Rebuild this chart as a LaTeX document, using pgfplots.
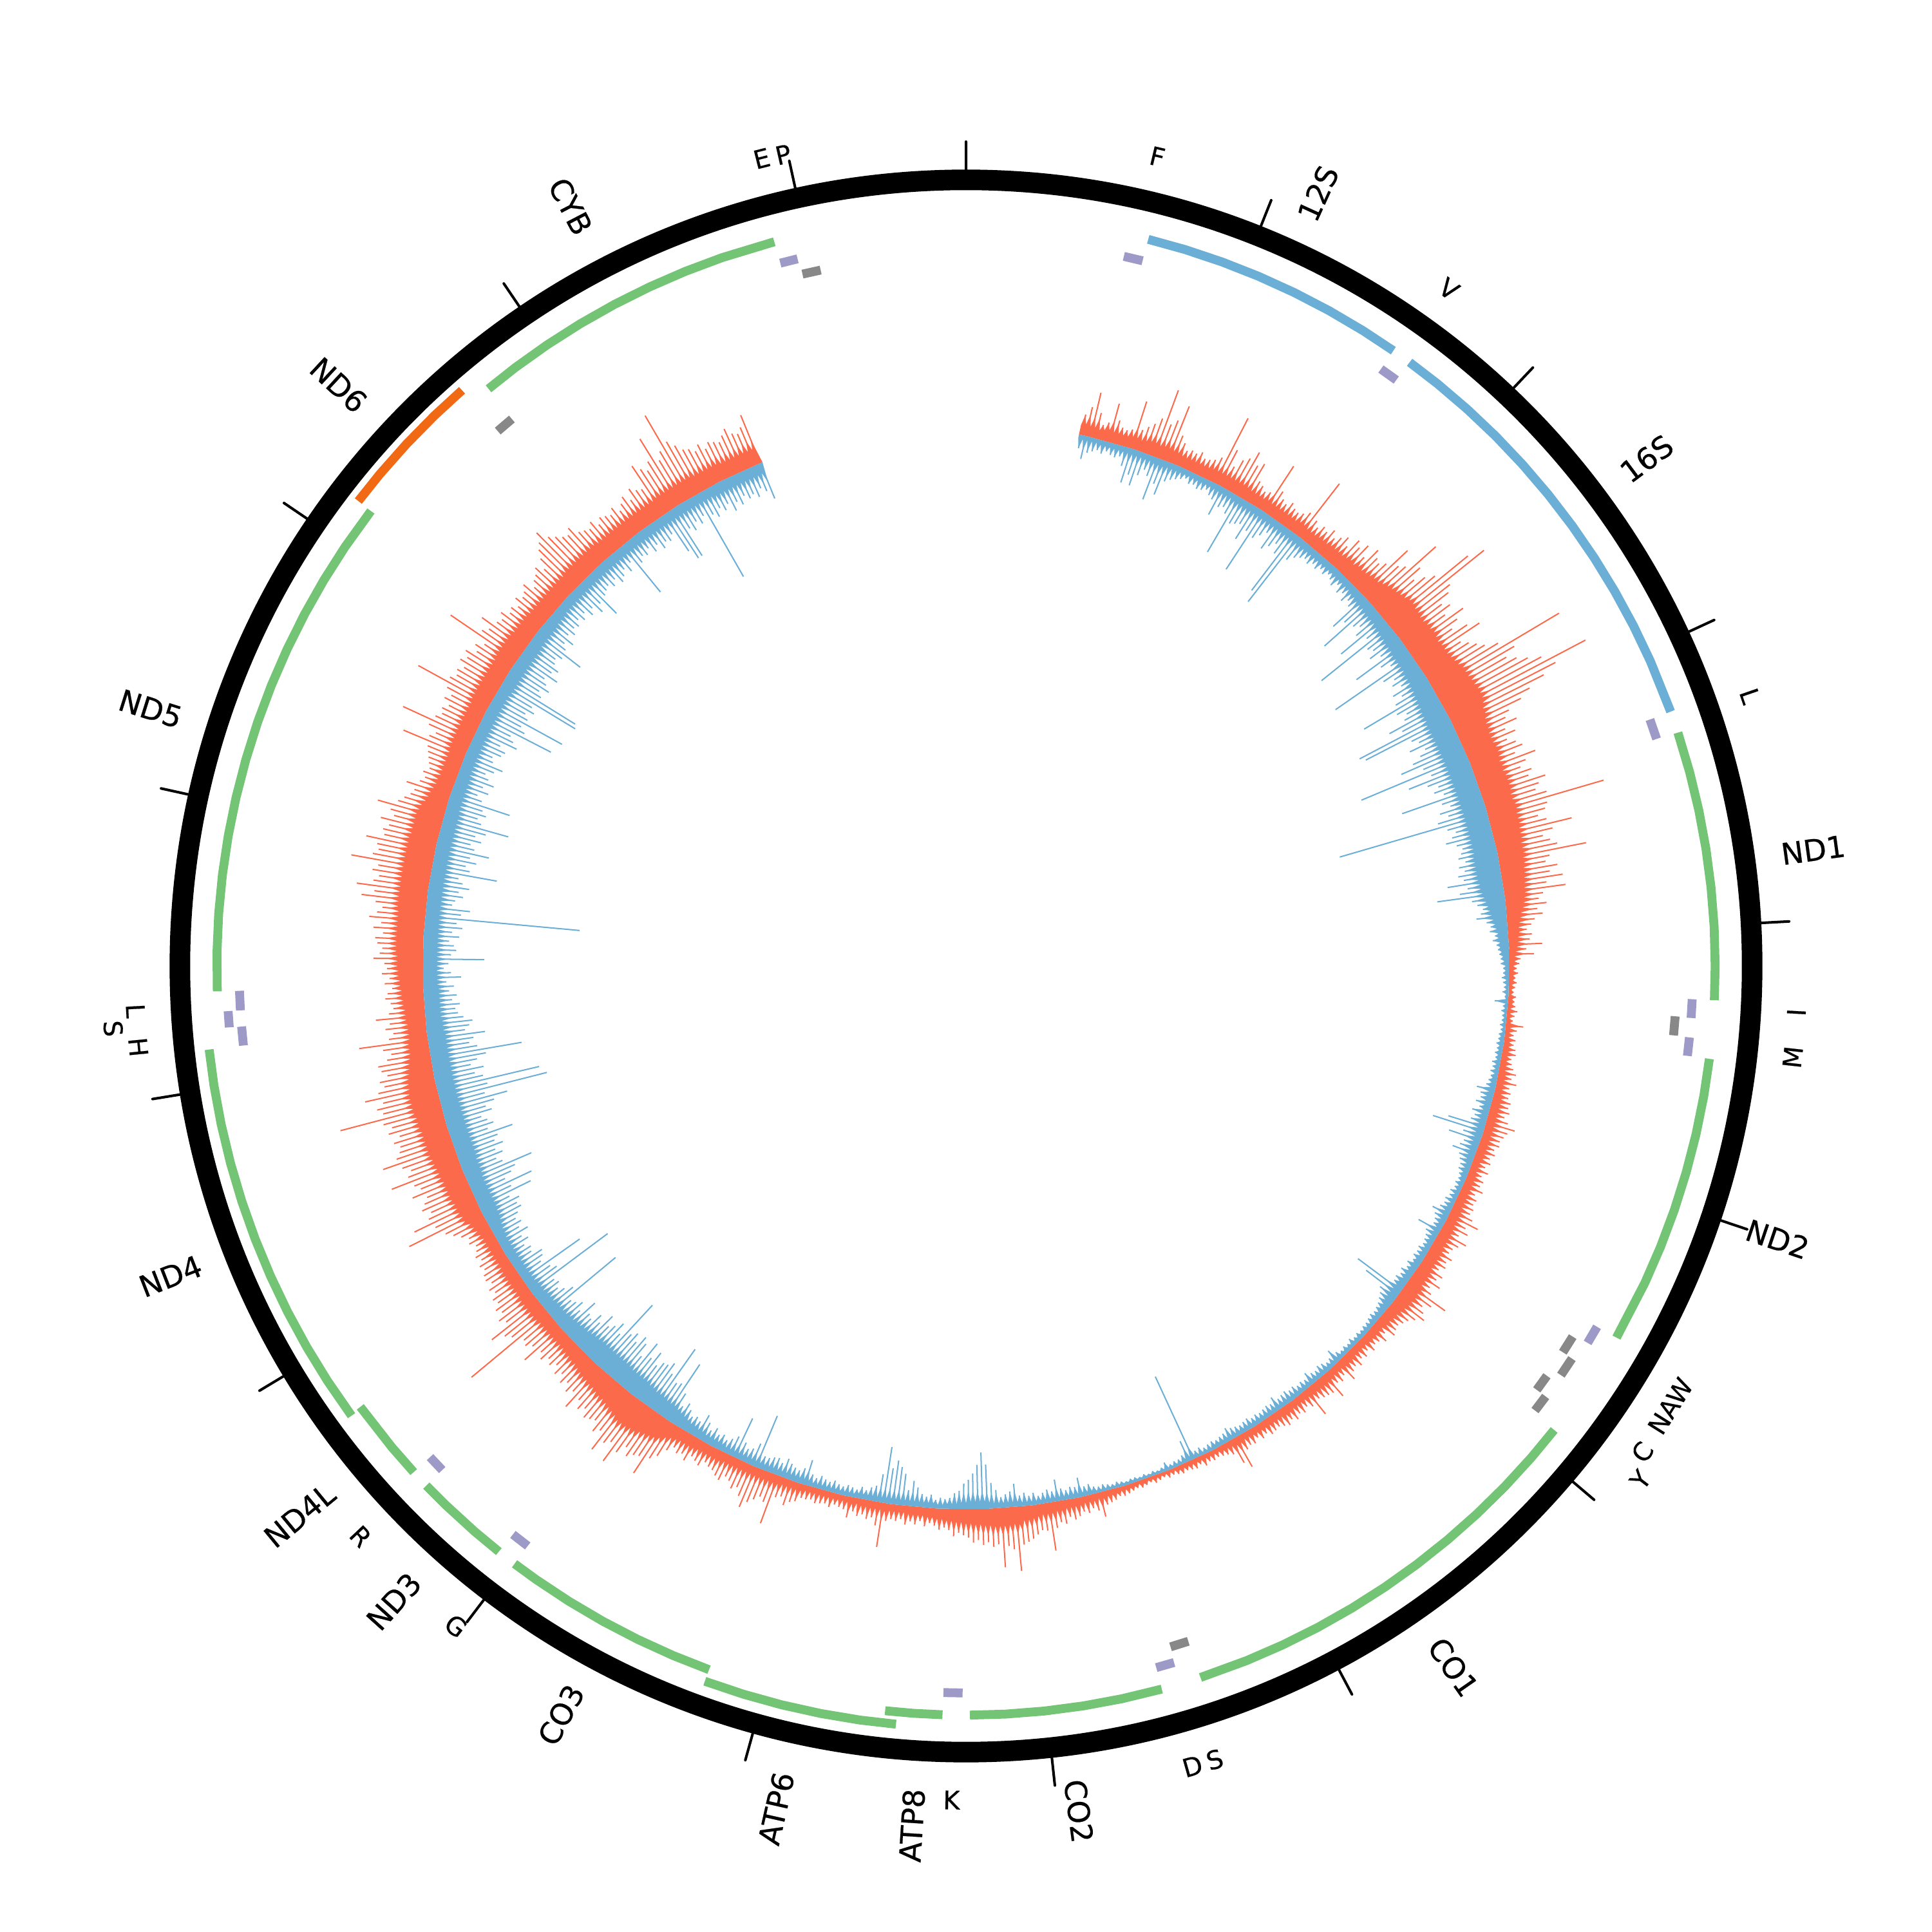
\documentclass[border=0pt]{standalone}
\usepackage{pgfplots}
\usepgfplotslibrary{polar}
\pgfplotsset{compat=1.18}
\usepackage{fontspec}
\setmainfont{DejaVu Sans}
\newfontfamily\lab[FakeBold=0.5]{DejaVu Sans}
\definecolor{rd}{HTML}{FB6A4A}
\definecolor{bl}{HTML}{6BAED6}
\definecolor{gn}{HTML}{74C476}
\definecolor{pu}{HTML}{9E9AC8}
\definecolor{gy}{HTML}{888888}
\definecolor{og}{HTML}{F16913}
\newcommand{\trk}[3]{\addplot[mark=none,line width=2.05pt,line cap=butt,color=#1,forget plot] table[row sep=\\,x expr=90-\thisrow{g},y expr=#2]{g\\#3};}
\newcommand{\bl}[4]{\node[rotate=#4] at (axis cs:{90-#1},#2) {\lab\fontsize{6.9}{7}\selectfont #3};}
\newcommand{\sm}[4]{\node[rotate=#4] at (axis cs:{90-#1},#2) {\lab\fontsize{5.9}{6}\selectfont #3};}
% each pair: foot of the solid band / tip of the spike, one pair every 0.5 deg from 12 deg
\newcommand{\strand}[2]{\gdef\lns{}\gdef\pol{}%
 \foreach \f/\p [count=\i from 0] in {#2}{%
  \pgfmathsetmacro{\ta}{90-(12+0.5*\i)}%
  \pgfmathsetmacro{\tb}{90-(12.25+0.5*\i)}%
  \pgfmathsetmacro{\tip}{#1>0 ? min(\p,\f+9) : max(\p,\f-9)}%
  \xdef\lns{\lns (\tb,\f)(\tb,\p)(\tb,nan)}%
  \xdef\pol{\pol (\ta,\f)(\tb,\tip)}%
 }}
\strand{1}{449/458,450/465,449/478,449/462,448/453,449/456,450/473,449/460,449/455,449/454,%
449/456,450/481,450/458,449/462,450/466,451/472,451/498,450/470,451/475,451/489,%
450/465,450/460,449/455,449/457,449/456,449/459,449/455,449/456,449/458,450/462,%
450/500,450/473,450/460,450/468,450/472,450/480,450/470,450/474,449/460,449/458,%
449/455,449/457,450/485,449/463,449/458,449/456,449/460,449/457,449/456,449/458,%
450/462,450/495,449/460,449/456,449/460,450/458,450/463,450/458,451/462,451/466,%
451/460,451/470,452/466,453/472,452/463,454/475,453/470,454/468,455/472,456/492,%
456/478,458/482,460/511,461/490,462/480,463/488,464/495,466/526,466/539,465/500,%
465/495,464/485,464/490,465/482,465/497,466/488,465/480,464/492,465/501,465/480,%
465/485,466/490,467/495,468/505,470/560,470/515,470/505,471/512,471/520,472/530,%
472/568,472/538,470/525,468/510,468/500,466/487,465/482,465/490,464/478,464/485,%
464/476,465/482,465/486,464/478,463/494,464/484,463/478,464/486,464/482,464/495,%
464/488,463/484,463/492,464/539,464/490,463/487,463/480,463/486,462/506,462/489,%
462/480,461/485,461/490,461/513,460/482,460/478,459/487,459/480,458/490,458/476,%
457/491,457/472,456/468,455/474,454/466,452/470,451/463,450/460,449/456,449/460,%
448/458,448/468,447/455,446/461,445/450,445/449,444/447,444/448,444/446,444/447,%
443/446,443/445,443/447,444/446,444/447,443/449,443/447,443/446,444/455,444/450,%
444/448,444/450,445/449,445/451,445/452,445/449,445/450,445/452,445/455,446/452,%
446/457,446/452,446/454,446/453,447/456,447/455,447/457,447/454,447/458,447/465,%
447/460,447/458,447/456,447/457,447/454,447/456,447/453,447/455,446/452,446/456,%
446/452,447/455,447/454,447/458,447/453,447/456,447/455,447/457,447/456,448/460,%
448/467,448/458,448/462,449/456,449/465,449/460,449/457,449/456,450/461,450/458,%
450/460,450/456,450/462,451/459,451/465,451/458,451/462,453/479,452/468,453/462,%
452/466,452/470,451/464,450/460,449/458,449/456,448/457,448/459,447/452,447/457,%
447/453,447/452,447/455,446/451,446/454,446/452,446/456,447/453,447/455,447/460,%
446/452,446/455,446/453,447/464,447/457,447/456,447/455,447/453,447/466,446/455,%
446/452,446/455,446/453,446/456,447/453,447/456,446/454,446/452,446/453,446/454,%
446/451,446/453,446/450,446/453,445/452,445/454,446/468,446/462,445/452,445/450,%
445/449,444/448,444/449,444/448,444/450,444/447,444/449,444/448,444/447,444/448,%
444/447,443/446,443/447,443/445,443/446,443/447,443/445,443/446,444/447,443/446,%
444/447,444/448,444/449,444/448,445/450,445/451,445/452,446/461,445/455,446/452,%
446/455,446/453,447/456,447/458,447/455,447/460,448/458,448/462,449/480,449/463,%
449/462,450/465,451/468,452/470,452/472,455/493,454/475,455/472,455/489,455/470,%
455/472,454/468,454/470,453/466,453/468,452/464,452/462,451/460,451/463,450/458,%
450/456,449/458,449/455,448/453,448/456,447/452,447/455,447/453,447/456,446/452,%
446/454,446/453,446/455,447/477,446/460,446/454,446/456,446/453,446/455,445/452,%
446/458,445/452,445/451,445/450,445/453,445/451,445/452,445/453,445/451,445/452,%
445/452,446/456,446/458,446/462,446/456,446/458,447/482,447/465,447/462,447/466,%
447/470,447/476,447/468,447/462,447/465,447/460,447/458,447/463,447/461,448/458,%
448/457,448/455,448/460,448/458,448/456,449/462,449/458,449/460,449/457,450/462,%
451/470,453/475,456/492,458/478,459/480,460/484,461/478,463/486,463/498,464/482,%
464/486,464/496,462/480,461/484,460/476,459/478,458/480,458/474,457/478,456/472,%
456/483,455/470,455/474,454/468,453/472,452/466,452/470,451/464,451/468,450/465,%
450/470,450/466,450/480,450/468,450/472,450/470,450/522,451/476,451/480,451/490,%
451/472,451/476,451/470,450/473,450/468,450/470,450/465,450/468,450/463,450/466,%
449/465,449/462,449/464,449/460,449/463,449/460,449/458,449/462,450/460,451/465,%
452/470,453/475,456/506,456/480,457/497,457/482,457/478,458/484,458/480,458/476,%
458/487,458/478,459/482,459/500,459/484,460/480,460/486,461/501,461/488,461/484,%
461/482,461/486,461/480,462/488,462/484,462/490,463/525,463/488,463/492,463/486,%
463/500,462/488,462/482,461/485,460/478,459/482,458/484,457/476,456/472,456/478,%
456/497,455/472,455/468,455/474,455/470,456/481,456/470,456/466,457/468,457/472,%
458/470,458/466,459/472,459/468,460/474,460/470,461/472,461/481,461/476,462/474,%
462/478,462/480,462/474,462/482,462/476,462/486,462/480,462/476,463/482,463/494,%
463/484,463/499,463/486,463/482,463/488,463/484,463/507,463/490,463/486,463/488,%
463/498,463/484,463/486,462/482,462/490,462/480,462/484,462/496,461/480,460/476,%
458/472,457/470,456/478,455/468,454/465,454/468,453/464,453/466,453/468,453/470,%
453/472,453/495,454/474,454/470,454/478,454/503,454/476,454/472,454/474,454/470,%
454/476,454/472,454/478,455/507,455/480,455/476,455/478,455/474,455/480,455/476,%
455/480,455/472,455/476,456/470,456/506,456/478,456/474,456/484,456/472,455/470,%
455/474,455/468,455/470,455/466,454/472,454/468,454/470,454/474,454/466,454/470,%
454/472,454/476,454/470,454/478,454/484,455/488,455/495,455/486,455/482,455/478,%
455/476,455/480,455/472,455/470,454/468,454/472,454/466,454/470,454/468,454/466,%
454/470,454/464,454/468,454/472,454/466,454/474,454/470,454/468,454/488,455/482,%
455/478,455/484,455/503,455/480,455/486,455/517,455/490,455/484,454/478,454/476,%
454/472,454/476,454/470,454/474,453/472,453/470,453/474,453/478,453/472,453/470,%
453/474,453/483}
\global\let\lnsR\lns \global\let\polR\pol
\strand{-1}{438/430,438/422,438/428,438/430,438/432,437/430,437/433,437/431,437/430,437/432,%
437/425,437/412,437/420,437/412,437/422,437/428,437/424,436/405,436/420,436/412,%
437/425,437/428,437/430,437/432,437/434,437/431,437/432,437/430,437/431,437/433,%
437/430,437/428,437/416,437/425,437/427,437/423,436/389,436/418,436/420,436/422,%
436/410,436/420,436/385,436/418,436/423,436/428,436/415,436/420,436/425,436/418,%
436/383,436/374,436/420,436/425,436/428,436/430,436/428,436/431,436/429,436/432,%
436/430,436/433,436/431,436/428,436/432,436/427,436/430,436/425,435/429,435/426,%
434/406,434/415,434/390,433/418,433/422,433/415,433/396,432/420,432/370,431/415,%
431/418,430/412,430/420,430/393,429/415,429/422,429/365,429/410,429/418,428/414,%
428/420,428/410,427/416,427/408,426/376,426/405,425/412,425/408,424/392,424/402,%
424/361,423/365,423/405,423/410,423/400,423/412,423/406,423/398,423/386,423/404,%
423/348,423/408,423/387,423/402,423/410,423/405,423/412,423/375,423/408,423/414,%
423/404,423/410,423/400,423/316,423/406,423/412,423/408,423/402,423/410,423/414,%
423/412,423/409,422/414,422/408,422/412,422/406,422/410,422/396,423/412,423/405,%
424/386,425/414,426/418,427/422,428/420,429/416,430/424,431/427,432/426,433/430,%
433/428,434/431,434/432,435/433,436/434,437/434,438/436,438/436,438/435,439/436,%
439/437,439/436,439/438,439/430,439/437,439/436,439/437,439/437,439/436,439/437,%
439/436,438/436,438/435,438/436,438/435,438/436,438/434,438/435,438/434,438/435,%
437/434,437/433,437/426,437/430,436/431,436/428,436/432,436/427,436/430,436/428,%
436/410,436/398,436/425,436/414,436/428,436/426,436/421,436/428,436/430,437/432,%
437/432,437/434,437/435,438/434,438/435,438/433,438/434,438/432,438/433,437/431,%
437/426,437/430,437/432,437/433,437/421,437/430,437/432,437/433,437/434,437/432,%
437/433,437/432,436/434,436/431,436/433,436/430,436/432,436/430,435/431,435/397,%
435/408,435/425,435/428,435/430,436/432,436/433,437/434,437/433,437/434,438/435,%
438/435,438/436,438/435,438/436,438/434,438/436,438/435,438/436,438/434,438/429,%
438/434,438/435,438/433,438/432,438/434,438/433,438/430,438/434,438/433,438/434,%
438/432,438/433,438/431,438/432,438/433,438/429,438/433,438/432,438/433,438/434,%
438/433,438/434,438/432,438/433,438/434,438/433,438/432,438/430,438/433,438/434,%
438/435,438/434,439/435,439/436,439/434,439/435,438/367,438/423,438/434,439/436,%
439/436,439/437,439/434,439/437,439/438,439/437,439/438,439/437,439/438,439/437,%
439/437,439/438,439/437,439/436,439/437,439/436,439/435,439/436,439/435,438/432,%
438/433,438/425,438/432,438/431,438/433,438/431,438/423,438/432,438/430,438/432,%
438/434,438/431,438/433,438/430,438/432,437/422,437/428,437/430,437/432,437/426,%
437/420,436/405,435/395,435/405,435/412,435/417,436/420,436/426,437/428,437/432,%
437/433,438/432,438/434,437/430,437/432,437/430,437/425,437/420,437/428,437/415,%
437/410,437/405,437/412,437/395,437/418,437/428,437/430,437/433,437/431,437/434,%
438/433,438/432,438/434,438/433,438/431,438/433,438/432,438/430,438/433,438/431,%
437/420,437/428,437/431,437/430,437/428,437/425,437/430,437/427,437/428,437/430,%
437/430,437/396,437/422,437/428,437/430,437/426,437/406,437/424,437/428,437/431,%
436/428,436/430,436/426,436/430,436/425,435/420,435/428,434/426,434/428,433/424,%
432/420,431/425,430/415,429/389,429/410,429/412,428/381,428/408,428/400,427/404,%
427/405,426/410,426/400,426/408,426/396,426/412,425/402,425/398,425/406,425/400,%
425/404,425/375,425/410,425/402,425/408,426/412,426/404,427/415,428/410,428/418,%
429/416,429/407,430/420,430/414,431/418,431/420,431/370,431/412,432/418,432/422,%
432/418,433/420,433/363,433/412,434/416,434/384,434/420,434/416,434/414,434/422,%
434/420,434/424,434/418,434/422,434/414,434/420,433/416,433/419,432/415,431/410,%
430/412,430/408,429/415,429/394,429/410,429/390,429/412,429/405,429/400,429/384,%
428/408,428/412,428/405,428/410,427/402,427/408,427/404,427/390,427/410,427/404,%
427/408,427/412,427/402,427/406,427/398,427/386,427/404,427/351,427/400,427/356,%
427/402,427/408,427/400,427/410,427/404,427/396,427/366,427/402,427/408,427/404,%
427/394,427/410,428/406,428/403,428/410,429/414,429/416,429/412,429/418,429/414,%
429/420,429/416,430/422,430/410,430/418,430/424,430/420,430/391,430/418,430/414,%
430/416,430/420,430/412,430/418,430/410,430/415,430/315,430/412,430/405,430/420,%
430/418,430/412,430/416,430/408,430/414,430/418,430/387,430/410,430/414,430/406,%
430/412,430/397,430/410,430/414,430/406,430/412,430/404,430/386,430/410,430/414,%
431/408,431/412,431/390,431/415,431/420,431/412,431/418,431/410,432/416,432/420,%
432/414,432/408,432/418,432/420,432/414,432/412,432/418,432/405,432/410,432/414,%
432/379,432/405,432/410,432/374,432/408,432/412,432/406,432/410,431/371,431/373,%
431/408,431/412,431/405,431/410,431/414,431/404,431/412,431/408,431/414,431/416,%
432/412,432/396,432/414,432/418,432/412,432/420,433/416,433/420,433/418,434/422,%
434/418,434/422,434/416,434/420,434/412,434/418,434/403,434/420,434/422,434/424,%
434/420,434/424,434/418,434/421,434/425,434/420,434/426,434/392,434/420,434/424,%
434/422,434/426,434/420,434/424,434/418,434/422,434/420,434/424,434/405,434/396,%
434/396,434/420,434/416,434/422,434/418,434/423,434/364,434/420,434/416,434/422,%
433/418,433/422,433/414,433/420,433/416,433/422,433/418,433/420,433/416,433/422,%
433/418,433/410}
\global\let\lnsB\lns \global\let\polB\pol
\gdef\back{}
\foreach \g in {338,333,...,13,12}{\pgfmathsetmacro{\th}{90-\g}\xdef\back{\back (\th,441)}}
\begin{document}
\begin{tikzpicture}
\path[use as bounding box] (-1.46,-1.46) rectangle (14.22,14.22);
\begin{polaraxis}[scale only axis,width=12.76cm,height=12.76cm,xmin=0,xmax=360,ymin=0,ymax=638,clip=false,
 grid=none,ytick=\empty,xticklabel=\empty,
 xtick={90,68.27,46.55,24.82,3.1,341.37,319.64,297.92,276.19,254.47,232.74,211.01,189.29,167.56,145.83,124.11,102.38},
 axis line style={line width=4.75pt},
 tick align=inside,major tick length=0.31cm,xtick style={line width=0.6pt,black,line cap=round},
 y axis line style={draw=none},unbounded coords=jump]
\edef\tmp{\noexpand\addplot[fill=rd,draw=none,mark=none,forget plot] coordinates {\polR\back};}\tmp
\edef\tmp{\noexpand\addplot[draw=rd,line width=0.3pt,mark=none,forget plot] coordinates {\lnsR};}\tmp
\edef\tmp{\noexpand\addplot[fill=bl,draw=none,mark=none,forget plot] coordinates {\polB\back};}\tmp
\edef\tmp{\noexpand\addplot[draw=bl,line width=0.3pt,mark=none,forget plot] coordinates {\lnsB};}\tmp
% gene tracks
\trk{bl}{608}{14.08\\17\\20\\23\\26\\29\\32\\34.78\\}
\trk{bl}{608}{36.31\\39\\42\\45\\48\\51\\54\\57\\60\\63\\66\\70.15\\}
\trk{gn}{608}{71.85\\75\\78\\81\\84\\87\\90\\92.62\\}
\trk{gn}{608}{97.12\\100\\103\\106\\109\\112\\115\\119.74\\}
\trk{gn}{608}{128.27\\131\\134\\137\\140\\143\\146\\149\\152\\155\\158\\161.76\\}
\trk{gn}{608}{164.85\\168\\171\\174\\177\\179.7\\}
\trk{gn}{608}{181.8\\184\\186.2\\}
\trk{gn}{618}{185.28\\188\\191\\194\\197\\200.06\\}
\trk{gn}{608}{200.06\\203\\206\\209\\212\\215\\217.06\\}
\trk{gn}{608}{218.58\\221\\224\\226.08\\}
\trk{gn}{608}{227.5\\230\\233.95\\}
\trk{gn}{618}{233.8\\237\\240\\243\\246\\249\\252\\255\\258\\261\\263.7\\}
\trk{gn}{608}{268.06\\271\\274\\277\\280\\283\\286\\289\\292\\295\\298\\301\\304\\307.4\\}
\trk{og}{621}{307.42\\310\\313\\316\\318.8\\}
\trk{gn}{608}{320.4\\323\\326\\329\\332\\335\\338\\341\\345.17\\}
\trk{pu}{590}{12.54\\14.06\\}
\trk{pu}{590}{34.8\\36.29\\}
\trk{pu}{590}{70.18\\71.8\\}
\trk{pu}{590}{92.62\\94.1\\}
\trk{gy}{577}{94.06\\95.6\\}
\trk{pu}{590}{95.64\\97.1\\}
\trk{pu}{590}{119.76\\121.23\\}
\trk{gy}{577}{121.42\\122.91\\}
\trk{gy}{586}{122.94\\124.52\\}
\trk{gy}{577}{125.2\\126.6\\}
\trk{gy}{586}{126.6\\128\\}
\trk{gy}{577}{161.78\\163.28\\}
\trk{pu}{590}{163.37\\164.83\\}
\trk{pu}{590}{180.27\\181.78\\}
\trk{pu}{590}{217.08\\218.56\\}
\trk{pu}{590}{226.1\\227.5\\}
\trk{pu}{590}{263.72\\265.22\\}
\trk{pu}{600}{265.24\\266.5\\}
\trk{pu}{590}{266.5\\268.04\\}
\trk{gy}{577}{318.8\\320.3\\}
\trk{pu}{590}{345.2\\346.6\\}
\trk{gy}{577}{346.7\\348.2\\}
% labels
\bl{24.5}{689}{12S}{65.5}
\bl{53.3}{689}{16S}{36.7}
\bl{82.2}{694}{ND1}{7.8}
\bl{108.6}{695}{ND2}{-18.6}
\bl{145.2}{693}{CO1}{-55.2}
\bl{172.4}{692}{CO2}{-82.4}
\bl{183.6}{699}{ATP8}{86.4}
\bl{192.7}{701}{ATP6}{77.3}
\bl{208.4}{691}{CO3}{61.6}
\bl{222}{694}{ND3}{48}
\bl{230.5}{701}{ND4L}{39.5}
\bl{248.7}{693}{ND4}{21.3}
\bl{287.5}{694}{ND5}{-17.5}
\bl{312.8}{694}{ND6}{-42.8}
\bl{332.5}{695}{CYB}{-62.5}
\sm{13.3}{675}{F}{-13.3}
\sm{35.5}{675}{V}{-35.5}
\sm{71}{673}{L}{-71}
\sm{93.2}{675}{I}{86.8}
\sm{96.3}{675}{M}{83.7}
\sm{122}{674}{NAW}{58}
\sm{125.7}{676}{C}{54.3}
\sm{127.3}{688}{Y}{52.7}
\sm{164.2}{675}{D}{15.8}
\sm{162.6}{675}{S}{17.4}
\sm{181}{677}{K}{-1}
\sm{217.7}{677}{G}{-37.7}
\sm{226.7}{675}{R}{-46.7}
\sm{264.4}{675}{H}{-84.4}
\sm{265.8}{694}{S}{-85.8}
\sm{266.9}{675}{L}{-86.9}
\sm{345.8}{676}{E}{14.2}
\sm{347.3}{675}{P}{12.7}
\end{polaraxis}
\end{tikzpicture}
\end{document}
